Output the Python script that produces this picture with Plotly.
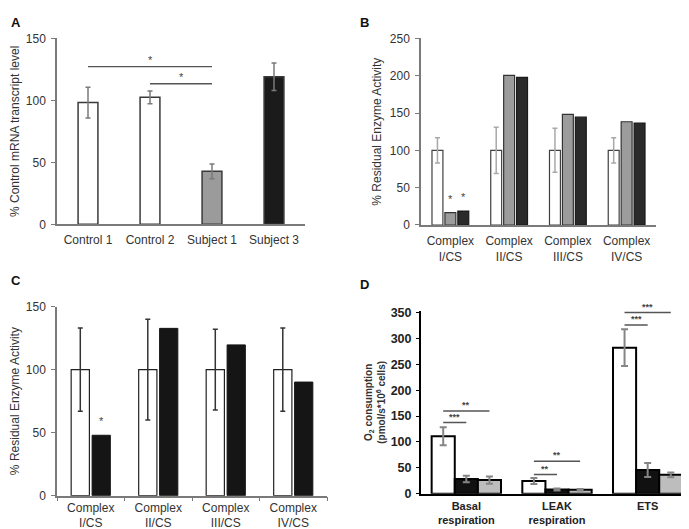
import plotly.graph_objects as go

W, H = 689, 529
FONT = "Liberation Sans, Arial, sans-serif"
TXT = "#333333"

# ---------------- Panel A data ----------------
a_categories = ["Control 1", "Control 2", "Subject 1", "Subject 3"]
a_values = [98.2, 102.4, 42.7, 119.1]
a_errors = [12.4, 5.2, 5.9, 11.1]
a_colors = ["#ffffff", "#ffffff", "#9b9b9b", "#1b1b1b"]
a_sig_from = [0, 1]
a_sig_to = [2, 2]
a_sig_y = [127.2, 113.4]
a_sig_text = ["*", "*"]

# ---------------- Panel B data ----------------
b_categories = ["Complex<br>I/CS", "Complex<br>II/CS", "Complex<br>III/CS", "Complex<br>IV/CS"]
b_control = [100, 100, 100, 100]
b_control_err = [17, 31, 29.5, 17]
b_subject1 = [16.5, 200.3, 148.3, 138.3]
b_subject3 = [18.6, 197.7, 144.4, 136.6]
b_star_subject1 = ["*", "", "", ""]
b_star_subject3 = ["*", "", "", ""]

# ---------------- Panel C data ----------------
c_categories = ["Complex<br>I/CS", "Complex<br>II/CS", "Complex<br>III/CS", "Complex<br>IV/CS"]
c_control = [100, 100, 100, 100]
c_control_err = [33, 40, 32, 33]
c_subject = [47.9, 132.7, 119.6, 90.1]
c_star_subject = ["*", "", "", ""]

# ---------------- Panel D data ----------------
d_categories = ["Basal<br>respiration", "LEAK<br>respiration", "ETS"]
d_control = [111, 24.5, 282.3]
d_control_err = [17.6, 5.6, 35.5]
d_subject_black = [28.2, 8.2, 45.8]
d_subject_black_err = [6.3, 2.0, 13.5]
d_subject_gray = [26.3, 7.5, 36.4]
d_subject_gray_err = [6.9, 1.5, 4.7]
d_sig_group = [0, 0, 1, 1, 2, 2]
d_sig_to = ["black", "gray", "black", "gray", "black", "gray"]
d_sig_y = [137.4, 160, 37, 62.7, 326, 350]
d_sig_text = ["***", "**", "**", "**", "***", "***"]

y_titles = ["% Control mRNA transcript level", "% Residual Enzyme Activity",
            "% Residual Enzyme Activity", "O<sub>2</sub> consumption<br>(pmol/s*10<sup>6</sup> cells)"]
panel_letters = ["A", "B", "C", "D"]


def px_x(p):
    return p / W


def px_y(p):
    return 1 - p / H


def star(fig, xa, ya, x, y, t, size=11, bold=False):
    fig.add_annotation(xref=xa, yref=ya, x=x, y=y, text=("<b>" + t + "</b>") if bold else t,
                       showarrow=False, yanchor="bottom", yshift=-1,
                       font=dict(size=size, color="#444444", family=FONT))


fig = go.Figure()

# ---------- Panel A ----------
fig.add_trace(go.Bar(
    x=a_categories, y=a_values, width=0.32,
    marker=dict(color=a_colors, line=dict(color="#3a3a3a", width=1.5)),
    error_y=dict(type="data", array=a_errors, color="#7a7a7a", thickness=1.5, width=2.5),
    xaxis="x", yaxis="y", showlegend=False, hoverinfo="skip"))

for x0, x1, yv, t in zip(a_sig_from, a_sig_to, a_sig_y, a_sig_text):
    fig.add_shape(type="line", xref="x", yref="y", x0=x0, x1=x1, y0=yv, y1=yv,
                  line=dict(color="#555555", width=1.3))
    star(fig, "x", "y", (x0 + x1) / 2, yv, t, size=11)

# ---------- Panel B ----------
bw = 0.186
bp = 0.22
fig.add_trace(go.Bar(
    x=b_categories, y=b_control, width=bw, offset=-bp - bw / 2,
    marker=dict(color="#ffffff", line=dict(color="#404040", width=1.2)),
    error_y=dict(type="data", array=b_control_err, color="#a8a8a8", thickness=1.5, width=2.5),
    xaxis="x2", yaxis="y2", showlegend=False, hoverinfo="skip"))
fig.add_trace(go.Bar(
    x=b_categories, y=b_subject1, width=bw, offset=-bw / 2,
    marker=dict(color="#9c9c9c", line=dict(color="#333333", width=1.2)),
    xaxis="x2", yaxis="y2", showlegend=False, hoverinfo="skip"))
fig.add_trace(go.Bar(
    x=b_categories, y=b_subject3, width=bw, offset=bp - bw / 2,
    marker=dict(color="#2a2a2a", line=dict(color="#1a1a1a", width=1.2)),
    xaxis="x2", yaxis="y2", showlegend=False, hoverinfo="skip"))
for i, (s1, s3) in enumerate(zip(b_star_subject1, b_star_subject3)):
    if s1:
        star(fig, "x2", "y2", i, b_subject1[i] + 9, s1)
    if s3:
        star(fig, "x2", "y2", i + bp, b_subject3[i] + 9, s3)

# ---------- Panel C ----------
cw = 0.27
cc = 0.155
fig.add_trace(go.Bar(
    x=c_categories, y=c_control, width=cw, offset=-cc - cw / 2,
    marker=dict(color="#ffffff", line=dict(color="#222222", width=1.2)),
    error_y=dict(type="data", array=c_control_err, color="#333333", thickness=1.5, width=2.5),
    xaxis="x3", yaxis="y3", showlegend=False, hoverinfo="skip"))
fig.add_trace(go.Bar(
    x=c_categories, y=c_subject, width=cw, offset=cc - cw / 2,
    marker=dict(color="#151515", line=dict(color="#151515", width=1)),
    xaxis="x3", yaxis="y3", showlegend=False, hoverinfo="skip"))
for i, s in enumerate(c_star_subject):
    if s:
        star(fig, "x3", "y3", i + cc, c_subject[i] + 6, s)

# ---------- Panel D ----------
dw = 0.255
d_offsets = {"control": -dw, "black": 0.0, "gray": dw}
for vals, errs, col, key in [
    (d_control, d_control_err, "#ffffff", "control"),
    (d_subject_black, d_subject_black_err, "#111111", "black"),
    (d_subject_gray, d_subject_gray_err, "#bdbdbd", "gray"),
]:
    fig.add_trace(go.Bar(
        x=d_categories, y=vals, width=dw, offset=d_offsets[key] - dw / 2,
        marker=dict(color=col, line=dict(color="#000000", width=2)),
        error_y=dict(type="data", array=errs, color="#858585", thickness=2, width=3.5),
        xaxis="x4", yaxis="y4", showlegend=False, hoverinfo="skip"))

for g, to, yv, t in zip(d_sig_group, d_sig_to, d_sig_y, d_sig_text):
    x0 = g + d_offsets["control"]
    x1 = g + d_offsets[to]
    fig.add_shape(type="line", xref="x4", yref="y4", x0=x0, x1=x1, y0=yv, y1=yv,
                  line=dict(color="#555555", width=1.5))
    star(fig, "x4", "y4", (x0 + x1) / 2, yv, t, size=9, bold=True)

# ---------- Axes ----------
axcol = "#7a7a7a"
base_x = dict(showgrid=False, zeroline=False, showline=True, linecolor=axcol, linewidth=1.5,
              ticks="", tickfont=dict(size=12, color=TXT, family=FONT), fixedrange=True)
base_y = dict(showgrid=False, zeroline=False, showline=True, linecolor=axcol, linewidth=1.5,
              ticks="outside", ticklen=4, tickcolor=axcol, tickwidth=1.2, ticklabelstandoff=3,
              tickfont=dict(size=12, color=TXT, family=FONT), fixedrange=True)
ytitle_font = dict(size=12, color=TXT, family=FONT)

fig.update_layout(
    xaxis=dict(base_x, domain=[px_x(49), px_x(297)], anchor="y", range=[-0.5, 3.5], type="category",
               ticklabelstandoff=4),
    yaxis=dict(base_y, domain=[px_y(215), px_y(24)], anchor="x", range=[0, 150], tickvals=[0, 50, 100, 150],
               title=dict(text=y_titles[0], font=ytitle_font, standoff=5)),
    xaxis2=dict(base_x, domain=[px_x(413), px_x(648)], anchor="y2", range=[-0.5, 3.5], type="category",
                ticklabelstandoff=4),
    yaxis2=dict(base_y, domain=[px_y(215.7), px_y(24)], anchor="x2", range=[0, 250],
                tickvals=[0, 50, 100, 150, 200, 250],
                title=dict(text=y_titles[1], font=ytitle_font, standoff=6)),
    xaxis3=dict(base_x, domain=[px_x(49), px_x(319)], anchor="y3", range=[-0.5, 3.5], type="category",
                ticks="outside", tickson="boundaries", ticklen=4, tickcolor=axcol, tickwidth=1.2),
    yaxis3=dict(base_y, domain=[px_y(493.7), px_y(299.5)], anchor="x3", range=[0, 150],
                tickvals=[0, 50, 100, 150],
                title=dict(text=y_titles[2], font=ytitle_font, standoff=5)),
    xaxis4=dict(base_x, domain=[px_x(413), px_x(685)], anchor="y4", range=[-0.5, 2.5], type="category",
                linecolor="#000000", linewidth=2, ticklabelstandoff=1,
                tickfont=dict(size=11, color="#222222", family=FONT, weight="bold")),
    yaxis4=dict(base_y, domain=[px_y(491.7), px_y(491.7 - 353 * 0.5314)], anchor="x4", range=[0, 353],
                tickvals=[0, 50, 100, 150, 200, 250, 300, 350], linecolor="#000000", linewidth=2,
                tickcolor="#000000", ticklen=3, ticklabelstandoff=2,
                tickfont=dict(size=12.5, color="#222222", family=FONT, weight="bold"),
                title=dict(text=y_titles[3], standoff=3,
                           font=dict(size=10, color=TXT, family=FONT, weight="bold"))),
)

# ---------- Panel letters ----------
letter_pos = [(8, 8), (356, 8), (8, 273), (356, 277)]
for (x, y), t in zip(letter_pos, panel_letters):
    fig.add_annotation(xref="paper", yref="paper", x=px_x(x), y=px_y(y), text="<b>" + t + "</b>",
                       showarrow=False, xanchor="center", yanchor="middle",
                       font=dict(size=13, color="#111111", family=FONT))

fig.update_layout(
    width=W, height=H, margin=dict(l=0, r=0, t=0, b=0),
    paper_bgcolor="white", plot_bgcolor="white",
    barmode="overlay", font=dict(family=FONT, color=TXT),
)

fig.write_html("out.html")
